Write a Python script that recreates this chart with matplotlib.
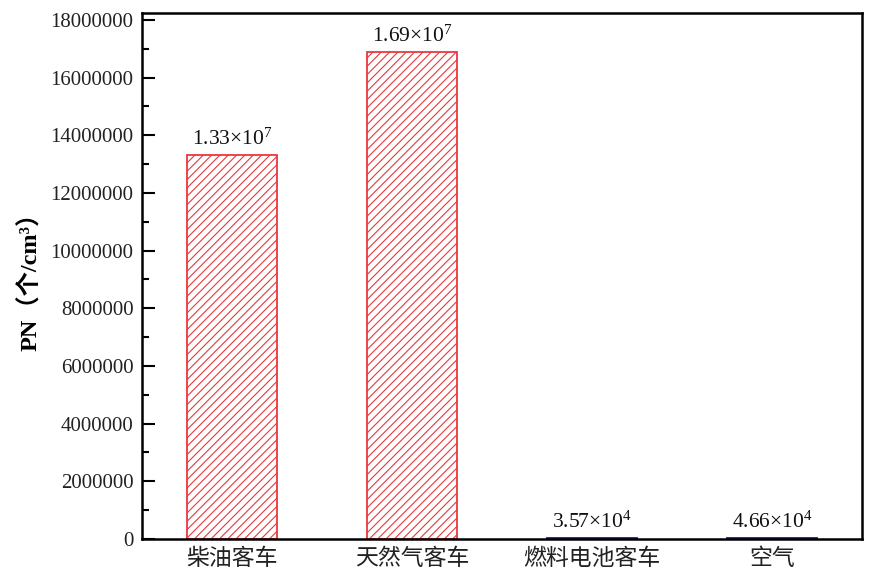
import matplotlib
matplotlib.use('Agg')
import matplotlib.pyplot as plt
from matplotlib.ticker import MultipleLocator, FuncFormatter

# datos
categorias = ['柴油客车', '天然气客车', '燃料电池客车', '空气']
pn = [1.33e7, 1.69e7, 3.57e4, 4.66e4]
etiquetas = [r'$1.33{\times}10^{7}$', r'$1.69{\times}10^{7}$',
             r'$3.57{\times}10^{4}$', r'$4.66{\times}10^{4}$']
colores = ['#e8383d', '#e8383d', '#1a1a8c', '#1a1a8c']

plt.rcParams['font.family'] = ['Liberation Serif', 'Noto Sans CJK SC']
plt.rcParams['mathtext.fontset'] = 'custom'
plt.rcParams['mathtext.rm'] = 'Liberation Serif'
plt.rcParams['mathtext.it'] = 'Liberation Serif:italic'
plt.rcParams['hatch.linewidth'] = 0.8

fig = plt.figure(figsize=(8.69, 5.78), dpi=100)
ax = fig.add_axes([0.1634, 0.0675, 0.8286, 0.91])

x = list(range(1, len(categorias) + 1))
for i in range(len(categorias)):
    plt.rcParams['hatch.color'] = colores[i]
    ax.bar(x[i], pn[i], width=0.5, facecolor='white', edgecolor=colores[i],
           hatch='////', linewidth=1.3)
    ax.text(x[i], pn[i] + 1.8e5, etiquetas[i], ha='center', va='bottom',
            fontsize=15.5, color='#111111')

ax.set_xlim(0.5, 4.5)
ax.set_ylim(0, 18.24e6)
ax.set_xticks(x)
ax.set_xticklabels(categorias, fontsize=16.5, color='#222222')
ax.tick_params(axis='x', length=0, pad=7)

ax.yaxis.set_major_locator(MultipleLocator(2e6))
ax.yaxis.set_minor_locator(MultipleLocator(1e6))
ax.yaxis.set_major_formatter(FuncFormatter(lambda v, p: '%d' % v))
ax.tick_params(axis='y', which='major', direction='in', length=9, width=1.5,
               labelsize=15, pad=6, labelcolor='#222222')
ax.tick_params(axis='y', which='minor', direction='in', length=5, width=1.5)

for s in ax.spines.values():
    s.set_linewidth(1.8)

ax.set_ylabel('PN（个/cm³）', fontsize=17.5, fontweight='bold', labelpad=6)

fig.savefig('out.png', dpi=100)
